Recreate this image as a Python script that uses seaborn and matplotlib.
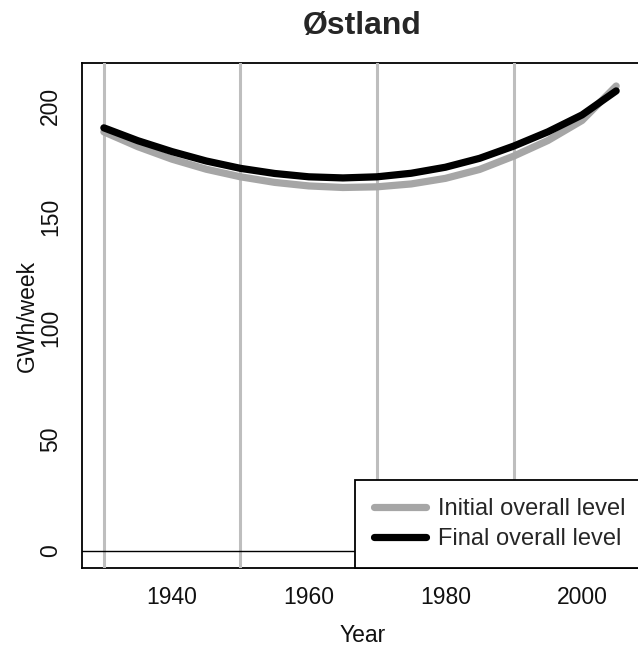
import numpy as np
import pandas as pd
import matplotlib
matplotlib.use("Agg")
import matplotlib.pyplot as plt
import seaborn as sns

# Overall level of the seasonal curve for Østland (GWh/week)
years = [1930, 1935, 1940, 1945, 1950, 1955, 1960, 1965, 1970,
         1975, 1980, 1985, 1990, 1995, 2000, 2005]
initial_level = [188.2, 181.5, 175.9, 171.4, 168.0, 165.5, 163.9, 163.2, 163.5,
                 164.8, 167.3, 171.3, 177.3, 184.3, 193.3, 208.8]
final_level = [190.0, 184.2, 179.3, 175.1, 171.8, 169.5, 168.0, 167.5, 168.0,
               169.6, 172.3, 176.3, 181.8, 188.2, 195.8, 206.6]

grid_years = [1930, 1950, 1970, 1990]
x_ticks = [1940, 1960, 1980, 2000]
y_ticks = [0, 50, 100, 150, 200]

title = "Østland"
x_label = "Year"
y_label = "GWh/week"
labels = ["Initial overall level", "Final overall level"]

sns.set_style("white")
plt.rcParams["font.family"] = ["Liberation Sans", "DejaVu Sans"]

W, H = 638, 646
fig = plt.figure(figsize=(W / 100, H / 100), dpi=100)
left, right, top, bottom = 82, 643.5, 63.3, 568.3
ax = fig.add_axes([left / W, 1 - bottom / H, (right - left) / W, (bottom - top) / H])

df = pd.DataFrame({"year": years, "initial": initial_level, "final": final_level})

# vertical reference lines, drawn over the box
for gy in grid_years:
    ax.axvline(gy, color="#bebebe", lw=2.2, zorder=2.6)
ax.axhline(0, color="black", lw=1.0, zorder=2.7)

sns.lineplot(data=df, x="year", y="initial", ax=ax, color="#a6a6a6", lw=5.2,
             solid_capstyle="round", label=labels[0], zorder=3)
sns.lineplot(data=df, x="year", y="final", ax=ax, color="black", lw=5.2,
             solid_capstyle="round", label=labels[1], zorder=3.1)

ax.set_xlim(1926.8, 2009.0)
ax.set_ylim(-7.9, 219.0)
ax.set_xticks(x_ticks)
ax.set_yticks(y_ticks)
ax.set_xticklabels([str(v) for v in x_ticks])
ax.set_yticklabels([str(v) for v in y_ticks], rotation=90, va="center")

for side in ["left", "bottom", "top", "right"]:
    ax.spines[side].set_color("black")
    ax.spines[side].set_linewidth(1.3)
    ax.spines[side].set_visible(True)

ax.tick_params(axis="both", which="major", direction="out", length=7.5,
               width=1.2, color="black", labelsize=16.5, labelcolor="#111111")
ax.tick_params(axis="x", pad=5)
ax.tick_params(axis="y", pad=7)

ax.set_xlabel(x_label, fontsize=16.5, labelpad=11, color="#111111")
ax.set_ylabel(y_label, fontsize=16.5, labelpad=0, color="#111111")

fig.text(362 / W, 1 - 34 / H, title, ha="center",
         va="baseline", fontsize=23, fontweight="bold")

leg = ax.legend(loc="lower right", bbox_to_anchor=(1, 0), borderaxespad=0,
                fontsize=17, frameon=True, fancybox=False, framealpha=1,
                edgecolor="black", handlelength=2.2, handletextpad=0.5,
                labelspacing=0.32, borderpad=0.78)
leg.get_frame().set_linewidth(1.3)
leg.set_zorder(10)

fig.savefig("out.png", dpi=100)
